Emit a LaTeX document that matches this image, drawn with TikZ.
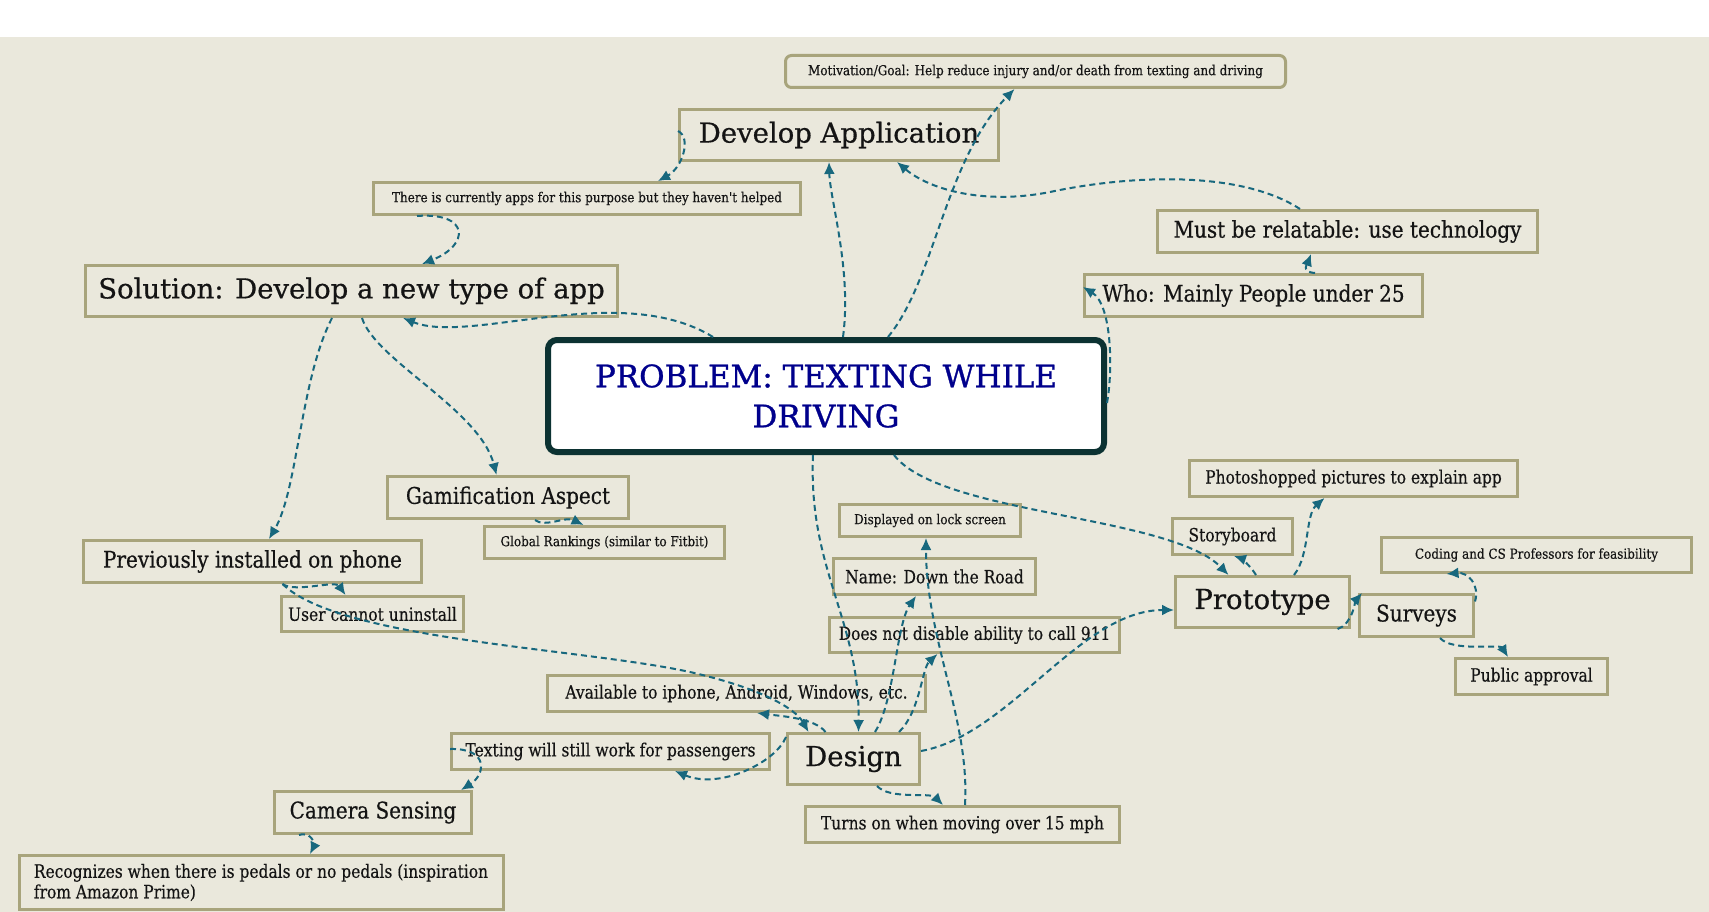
\documentclass[tikz,border=0pt]{standalone}
\usepackage{fontspec}
\setmainfont{DejaVu Serif}
\newfontfamily\fontA[FakeBold=0.6]{DejaVu Serif}
\newfontfamily\fontB[FakeStretch=0.87,FakeBold=0.5]{DejaVu Serif}
\newfontfamily\fontC[FakeStretch=0.85,FakeBold=0.4]{DejaVu Serif}
\newfontfamily\fontD[FakeStretch=0.875,FakeBold=0.3]{DejaVu Serif}
\newfontfamily\fontP[FakeBold=1.0]{DejaVu Serif}
\usetikzlibrary{arrows.meta,calc}
\definecolor{bgc}{RGB}{234,232,220}
\definecolor{bord}{RGB}{168,164,124}
\definecolor{arr}{RGB}{24,104,126}
\definecolor{probb}{RGB}{12,50,50}
\definecolor{navy}{RGB}{0,0,140}
\definecolor{ink}{RGB}{20,20,20}
\begin{document}
\begin{tikzpicture}[x=1pt,y=-1pt,
 box/.style={draw=bord, line width=3pt, inner sep=0pt, text=ink},
 fbig/.style={font=\fontA\fontsize{27.5}{33}\selectfont},
 fmed/.style={font=\fontB\fontsize{23}{27}\selectfont},
 fsm/.style={font=\fontC\fontsize{18.2}{20.5}\selectfont},
 ftiny/.style={font=\fontD\fontsize{13.7}{16}\selectfont},
 conn/.style={draw=arr, line width=2pt, dash pattern=on 6pt off 4pt, -{Latex[length=12pt,width=11pt]}},
]
\useasboundingbox (0,0) rectangle (1709,912);
\fill[white] (0,0) rectangle (1709,912);
\fill[bgc] (0,37) rectangle (1709,912);

% nodes
\node[box,ftiny,rounded corners=6pt,minimum width=500pt,minimum height=32pt] (mot) at (1035.5,71.5) {Motivation/Goal: Help reduce injury and/or death from texting and driving};
\node[box,fbig,minimum width=319pt,minimum height=51pt] (dev) at (839,135) {Develop Application};
\node[box,ftiny,minimum width=427pt,minimum height=32pt] (apps) at (587,198.5) {There is currently apps for this purpose but they haven't helped};
\node[box,fbig,minimum width=532pt,minimum height=51pt] (sol) at (351.5,291) {Solution: Develop a new type of app};
\node[draw=probb,line width=6pt,rounded corners=9pt,fill=white,inner sep=0pt,minimum width=556pt,minimum height=112pt,text=navy,align=center,font=\fontP\fontsize{31}{40}\selectfont] (prob) at (826,396) {PROBLEM: TEXTING WHILE\\DRIVING};
\node[box,fmed,minimum width=380pt,minimum height=42pt] (must) at (1347.5,231.5) {Must be relatable: use technology};
\node[box,fmed,minimum width=338pt,minimum height=42pt] (who) at (1253.5,295.5) {Who: Mainly People under 25};
\node[box,fmed,minimum width=241pt,minimum height=42pt] (gam) at (508,497.5) {Gamification Aspect};
\node[box,ftiny,minimum width=240pt,minimum height=32pt] (glob) at (604.5,542.5) {Global Rankings (similar to Fitbit)};
\node[box,fmed,minimum width=338pt,minimum height=42pt] (prev) at (252.5,561.5) {Previously installed on phone};
\node[box,fsm,minimum width=182pt,minimum height=35pt] (user) at (372.5,614) {User cannot uninstall};
\node[box,fsm,minimum width=378pt,minimum height=36pt] (avail) at (736.5,693.5) {Available to iphone, Android, Windows, etc.};
\node[box,fsm,minimum width=318pt,minimum height=36pt] (text) at (610.5,751.5) {Texting will still work for passengers};
\node[box,fmed,minimum width=197pt,minimum height=42pt] (cam) at (373,812.5) {Camera Sensing};
\node[box,fsm,minimum width=484pt,minimum height=54pt,align=left] (rec) at (261,882.5) {Recognizes when there is pedals or no pedals (inspiration\\from Amazon Prime)};
\node[box,fbig,minimum width=132pt,minimum height=51pt] (design) at (853.5,759) {Design};
\node[box,fsm,minimum width=314pt,minimum height=36pt] (turns) at (962.5,824.5) {Turns on when moving over 15 mph};
\node[box,fsm,minimum width=290pt,minimum height=35pt] (call) at (974.5,635) {Does not disable ability to call 911};
\node[box,fsm,minimum width=202pt,minimum height=36pt] (name) at (934.5,576.5) {Name: Down the Road};
\node[box,ftiny,minimum width=181pt,minimum height=32pt] (lock) at (930,520.5) {Displayed on lock screen};
\node[box,fbig,minimum width=174pt,minimum height=51pt] (proto) at (1262.5,602) {Prototype};
\node[box,fsm,minimum width=120pt,minimum height=36pt] (story) at (1232.5,536.5) {Storyboard};
\node[box,fsm,minimum width=328pt,minimum height=36pt] (photo) at (1353.5,478.5) {Photoshopped pictures to explain app};
\node[box,fmed,minimum width=114pt,minimum height=42pt] (surv) at (1416.5,615.5) {Surveys};
\node[box,ftiny,minimum width=310pt,minimum height=35pt] (cs) at (1536.5,555) {Coding and CS Professors for feasibility};
\node[box,fsm,minimum width=152pt,minimum height=36pt] (pub) at (1531.5,676.5) {Public approval};

% connectors
\draw[conn] ([yshift=4pt]dev.west) .. controls (692,138) and (682,168) .. ([xshift=71pt]apps.north);
\draw[conn] ([xshift=-170pt]apps.south) .. controls (470,212) and (470,245) .. ([xshift=70.5pt]sol.north);
\draw[conn] ([xshift=-113pt]prob.north) .. controls (620,280) and (470,345) .. ([xshift=51.5pt]sol.south);
\draw[conn] ([xshift=17pt]prob.north) .. controls (852,270) and (830,200) .. ([xshift=-10pt]dev.south);
\draw[conn] ([xshift=62pt]prob.north) .. controls (935,280) and (945,160) .. ([xshift=-21pt]mot.south);
\draw[conn] ([xshift=-47.5pt]must.north) .. controls (1240,170) and (1130,175) .. (1050,192) .. controls (985,205) and (930,190) .. ([xshift=58pt]dev.south);
\draw[conn] ([xshift=61.5pt]who.north) .. controls (1300,272) and (1308,262) .. ([xshift=-36.5pt]must.south);
\draw[conn] ([yshift=-7pt]prob.east) .. controls (1113,370) and (1112,305) .. ([yshift=8.5pt]who.west);
\draw[conn] ([xshift=-19.5pt]sol.south) .. controls (300,380) and (298,490) .. ([xshift=16.5pt]prev.north);
\draw[conn] ([xshift=10.5pt]sol.south) .. controls (375,360) and (480,410) .. ([xshift=-11.5pt]gam.north);
\draw[conn] ([xshift=27pt]gam.south) .. controls (545,528) and (565,516) .. ([xshift=-21pt]glob.north);
\draw[conn] ([xshift=30pt]prev.south) .. controls (295,593) and (335,580) .. ([xshift=-27pt]user.north);
\draw[conn] ([xshift=30pt]prev.south) .. controls (340,640) and (580,648) .. (690,672) .. controls (760,688) and (795,708) .. ([xshift=-45pt]design.north);
\draw[conn] ([xshift=-28pt]design.north) .. controls (815,718) and (780,716) .. ([xshift=20.5pt]avail.south);
\draw[conn] ([yshift=22pt]design.west) .. controls (776,762) and (720,790) .. ([xshift=64.5pt]text.south);
\draw[conn] ([yshift=2.5pt]text.west) .. controls (490,748) and (485,775) .. ([xshift=88pt]cam.north);
\draw[conn] ([xshift=-74pt]cam.south) .. controls (313,831) and (314,846) .. ([xshift=49pt]rec.north);
\draw[conn] ([xshift=-13pt]prob.south) .. controls (808,570) and (860,620) .. ([xshift=5pt]design.north);
\draw[conn] ([xshift=21.5pt]design.north) .. controls (895,700) and (896,625) .. ([xshift=-18.5pt]name.south);
\draw[conn] ([xshift=45.5pt]design.north) .. controls (920,712) and (922,668) .. ([xshift=-37pt]call.south);
\draw[conn] ([xshift=2.5pt]turns.north) .. controls (970,720) and (926,640) .. ([xshift=-4pt]lock.south);
\draw[conn] ([xshift=23.5pt]design.south) .. controls (890,800) and (930,792) .. ([xshift=-19.5pt]turns.north);
\draw[conn] ([yshift=8pt]design.east) .. controls (1010,735) and (1080,610) .. ([yshift=-8pt]proto.west);
\draw[conn] ([xshift=68pt]prob.south) .. controls (940,515) and (1170,515) .. ([xshift=-34pt]proto.north);
\draw[conn] ([xshift=-6.5pt]proto.north) .. controls (1250,565) and (1240,558) .. ([xshift=1.5pt]story.south);
\draw[conn] ([xshift=31.5pt]proto.north) .. controls (1310,555) and (1305,515) .. ([xshift=-29pt]photo.south);
\draw[conn] ([xshift=75pt]proto.south) .. controls (1352,625) and (1356,600) .. ([xshift=4pt]surv.north west);
\draw[conn] ([yshift=14pt]surv.east) .. controls (1480,585) and (1468,572) .. ([xshift=-90pt]cs.south);
\draw[conn] ([xshift=23.5pt]surv.south) .. controls (1452,652) and (1500,644) .. ([xshift=-23.5pt]pub.north);
\end{tikzpicture}
\end{document}
